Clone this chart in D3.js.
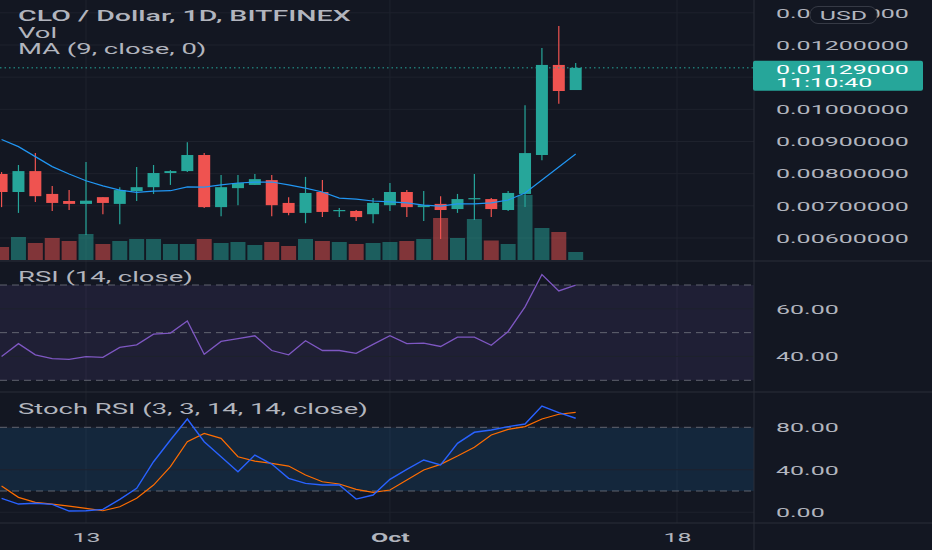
<!DOCTYPE html>
<html><head><meta charset="utf-8">
<script src="https://cdn.jsdelivr.net/npm/d3@7"></script>
<style>html,body{margin:0;padding:0;background:#131722;overflow:hidden}</style>
</head><body><svg id="c" width="932" height="550"></svg>
<script>
// ---------- DATA ----------
const dates = ["2021-09-08","2021-09-09","2021-09-10","2021-09-11","2021-09-12","2021-09-13","2021-09-14",
  "2021-09-15","2021-09-16","2021-09-17","2021-09-18","2021-09-19","2021-09-20","2021-09-21","2021-09-22",
  "2021-09-23","2021-09-24","2021-09-25","2021-09-26","2021-09-27","2021-09-28","2021-09-29","2021-09-30",
  "2021-10-01","2021-10-02","2021-10-03","2021-10-04","2021-10-05","2021-10-06","2021-10-07","2021-10-08",
  "2021-10-09","2021-10-10","2021-10-11","2021-10-12"];
const open  = [0.00799,0.00743,0.00808,0.00737,0.00715,0.00706,0.00727,0.00706,0.00746,0.00758,0.00802,0.00808,0.00858,0.00696,0.00755,0.00765,0.00780,0.00709,0.00678,0.00743,0.00684,0.00684,0.00674,0.00702,0.00743,0.00696,0.00706,0.00690,0.00721,0.00721,0.00687,0.00737,0.00858,0.01138,0.01060];
const high  = [0.00805,0.00827,0.00864,0.00762,0.00749,0.00836,0.00727,0.00758,0.00821,0.00827,0.00811,0.00898,0.00864,0.00796,0.00796,0.00799,0.00796,0.00727,0.00790,0.00780,0.00693,0.00687,0.00724,0.00771,0.00749,0.00746,0.00730,0.00737,0.00799,0.00724,0.00746,0.01013,0.01191,0.01259,0.01144];
const low   = [0.00696,0.00678,0.00712,0.00684,0.00687,0.00609,0.00674,0.00643,0.00715,0.00737,0.00765,0.00805,0.00693,0.00668,0.00702,0.00765,0.00668,0.00671,0.00646,0.00665,0.00665,0.00653,0.00646,0.00684,0.00665,0.00653,0.00597,0.00678,0.00656,0.00665,0.00684,0.00696,0.00842,0.01017,0.01060];
const close = [0.00743,0.00808,0.00730,0.00709,0.00706,0.00716,0.00709,0.00749,0.00758,0.00802,0.00808,0.00858,0.00696,0.00758,0.00771,0.00783,0.00702,0.00678,0.00740,0.00681,0.00687,0.00665,0.00709,0.00743,0.00696,0.00702,0.00687,0.00721,0.00724,0.00690,0.00740,0.00864,0.01138,0.01057,0.01129];
const volume = [130,230,170,220,190,260,160,190,210,210,160,160,210,170,180,150,180,140,210,190,180,160,170,180,190,210,420,220,410,195,160,650,320,280,80];
const ma9   = [0.00906,0.00884,0.00853,0.00822,0.00799,0.00778,0.00762,0.00749,0.00742,0.00746,0.00747,0.00759,0.00758,0.00765,0.00771,0.00774,0.00774,0.00765,0.00755,0.00743,0.00724,0.00721,0.00715,0.00712,0.00709,0.00702,0.00699,0.00706,0.00706,0.00709,0.00718,0.00740,0.00780,0.00821,0.00861];
const rsi   = [40.0,45.4,40.7,39.1,38.8,39.9,39.6,43.8,44.9,49.4,49.8,54.9,40.9,46.3,47.5,48.7,42.5,40.7,46.6,42.5,42.5,41.3,45.1,48.7,45.4,45.6,44.2,48.1,48.1,44.7,50.5,60.8,74.4,67.5,69.9];
const stochK = [13.1,7.7,8.4,7.4,1.1,1.4,2.7,12.1,22.5,47.6,68.0,87.8,66.4,52.3,38.2,53.9,45.4,31.9,27.2,25.6,25.6,12.4,16.2,31.0,40.4,49.2,44.5,64.9,75.3,77.5,80.6,83.1,100,93.8,88.5];
const stochD = [24.7,14.0,9.3,7.7,5.8,3.7,1.4,5.2,13.1,25.6,42.9,66.4,74.3,69.6,52.3,48.2,46.1,43.5,35.0,28.7,26.6,21.6,18.7,20.9,30.3,39.8,45.1,52.9,61.2,72.7,78.1,80.6,87.8,92.3,94.1];
const priceTicks = [0.006,0.007,0.008,0.009,0.010,0.012,0.013];
const priceGrid = [0.006,0.007,0.008,0.009,0.010,0.011,0.012,0.013];
const rsiTicks = [40,60];
const rsiBands = [70,50,30];
const stochTicks = [0,40,80];
const stochBands = [80,20];
const xTickDates = ["2021-09-13","2021-10-01","2021-10-18"];
const xTickLabels = ["13","Oct","18"];
const lastPrice = 0.01129;
const lastTime = "11:10:40";
const title = "CLO / Dollar, 1D, BITFINEX";

// ---------- SETUP ----------
const parse = d3.timeParse("%Y-%m-%d");
const D = dates.map(parse);
const W = 932, H = 550, PR = 754;
const P = {price:[0,261], rsi:[261,392], stoch:[392,523]};
const GREEN = "#26a69a", RED = "#ef5350";
const SX = 1.85, FS = 13.5, FONT = "Roboto, 'Noto Sans', sans-serif";
const LSX = 1.96, LFS = 14;
const TXT = "#b2b5be", GRID = "#1e222d", SEP = "#2a2e39";

const x = d3.scaleTime().domain([parse("2021-09-13"), parse("2021-10-18")]).range([86, 677]);
const yP = d3.scaleLinear().domain([0.006, 0.012]).range([238, 45]);
const yV = d3.scaleLinear().domain([0, 650]).range([260, 195]);
const yR = d3.scaleLinear().domain([30, 70]).range([380.3, 285]);
const yS = d3.scaleLinear().domain([20, 80]).range([491, 427.3]);

const svg = d3.select("#c");
svg.append("rect").attr("width", W).attr("height", H).attr("fill", "#131722");
const defs = svg.append("defs");
defs.append("clipPath").attr("id","clipP").append("rect").attr("x",0).attr("y",0).attr("width",PR).attr("height",P.price[1]);
defs.append("clipPath").attr("id","clipR").append("rect").attr("x",0).attr("y",P.rsi[0]).attr("width",PR).attr("height",P.rsi[1]-P.rsi[0]);
defs.append("clipPath").attr("id","clipS").append("rect").attr("x",0).attr("y",P.stoch[0]).attr("width",PR).attr("height",P.stoch[1]-P.stoch[0]);

function txt(parent, s, tx, ty, o={}) {
  return parent.append("text")
    .attr("transform", `translate(${tx},${ty}) scale(${o.sx||SX},1)`)
    .attr("text-anchor", o.anchor||"start")
    .attr("font-family", FONT).attr("font-size", o.size||FS)
    .attr("font-weight", o.weight||400).attr("fill", o.fill||TXT).text(s);
}

// ---------- GRID ----------
const grid = svg.append("g");
grid.selectAll(".vg").data(xTickDates.map(parse)).join("line")
  .attr("x1", d=>x(d)).attr("x2", d=>x(d)).attr("y1", 0).attr("y2", P.stoch[1])
  .attr("stroke", GRID).attr("stroke-width", 1);
grid.selectAll(".pg").data(priceGrid).join("line")
  .attr("x1", 0).attr("x2", PR).attr("y1", d=>yP(d)).attr("y2", d=>yP(d))
  .attr("stroke", GRID);

// RSI band
const rsiG = svg.append("g").attr("clip-path","url(#clipR)");
rsiG.append("rect").attr("x",0).attr("width",PR).attr("y",yR(70)).attr("height",yR(30)-yR(70))
  .attr("fill","rgba(126,87,194,0.12)");
rsiG.selectAll(".rg").data(rsiTicks).join("line")
  .attr("x1",0).attr("x2",PR).attr("y1",d=>yR(d)).attr("y2",d=>yR(d)).attr("stroke",GRID);
rsiG.selectAll(".rb").data(rsiBands).join("line")
  .attr("x1",0).attr("x2",PR).attr("y1",d=>yR(d)).attr("y2",d=>yR(d))
  .attr("stroke","#787b86").attr("stroke-opacity",0.75).attr("stroke-dasharray","7,5");

// Stoch band
const stG = svg.append("g").attr("clip-path","url(#clipS)");
stG.append("rect").attr("x",0).attr("width",PR).attr("y",yS(80)).attr("height",yS(20)-yS(80))
  .attr("fill","rgba(33,150,243,0.13)");
stG.selectAll(".sg").data(stochTicks).join("line")
  .attr("x1",0).attr("x2",PR).attr("y1",d=>yS(d)).attr("y2",d=>yS(d)).attr("stroke",GRID);
stG.selectAll(".sb").data(stochBands).join("line")
  .attr("x1",0).attr("x2",PR).attr("y1",d=>yS(d)).attr("y2",d=>yS(d))
  .attr("stroke","#787b86").attr("stroke-opacity",0.75).attr("stroke-dasharray","7,5");

// ---------- PRICE PANE ----------
const pg = svg.append("g").attr("clip-path","url(#clipP)");
const idx = d3.range(D.length);
const up = i => close[i] >= open[i];

pg.selectAll(".vol").data(idx).join("rect")
  .attr("x", i=>x(D[i])-7.5).attr("width", 15)
  .attr("y", i=>yV(volume[i])).attr("height", i=>yV(0)-yV(volume[i]))
  .attr("fill", i=> up(i) ? "rgba(38,166,154,0.5)" : "rgba(239,83,80,0.5)");

pg.selectAll(".wick").data(idx).join("line")
  .attr("x1", i=>x(D[i])).attr("x2", i=>x(D[i]))
  .attr("y1", i=>yP(high[i])).attr("y2", i=>yP(low[i]))
  .attr("stroke", i=> up(i)?GREEN:RED).attr("stroke-width", 1.2);
pg.selectAll(".body").data(idx).join("rect")
  .attr("x", i=>x(D[i])-6).attr("width", 12)
  .attr("y", i=>yP(Math.max(open[i],close[i])))
  .attr("height", i=>Math.max(1.2, Math.abs(yP(open[i])-yP(close[i]))))
  .attr("fill", i=> up(i)?GREEN:RED);

pg.append("path").datum(idx)
  .attr("d", d3.line().x(i=>x(D[i])).y(i=>yP(ma9[i])))
  .attr("fill","none").attr("stroke","#2196f3").attr("stroke-width",1.2);

pg.append("line").attr("x1",0).attr("x2",PR).attr("y1",yP(lastPrice)).attr("y2",yP(lastPrice))
  .attr("stroke",GREEN).attr("stroke-width",1).attr("stroke-dasharray","1.5,3");

// ---------- RSI LINE ----------
rsiG.append("path").datum(idx)
  .attr("d", d3.line().x(i=>x(D[i])).y(i=>yR(rsi[i])))
  .attr("fill","none").attr("stroke","#7e57c2").attr("stroke-width",1.3);

// ---------- STOCH LINES ----------
stG.append("path").datum(idx)
  .attr("d", d3.line().x(i=>x(D[i])).y(i=>yS(stochD[i])))
  .attr("fill","none").attr("stroke","#ff6d00").attr("stroke-width",1.2);
stG.append("path").datum(idx)
  .attr("d", d3.line().x(i=>x(D[i])).y(i=>yS(stochK[i])))
  .attr("fill","none").attr("stroke","#2962ff").attr("stroke-width",1.4);

// ---------- SEPARATORS ----------
[P.price[1], P.rsi[1], P.stoch[1]].forEach(yy=>{
  svg.append("line").attr("x1",0).attr("x2",W).attr("y1",yy).attr("y2",yy).attr("stroke",SEP);
});
svg.append("line").attr("x1",PR).attr("x2",PR).attr("y1",0).attr("y2",H).attr("stroke",SEP);

// ---------- AXES ----------
function styleAxis(g, dx, anchor) {
  g.select(".domain").remove();
  g.selectAll(".tick line").remove();
  g.selectAll(".tick text").each(function(){
    const t = d3.select(this);
    const y0 = +t.attr("y") || 0;
    t.attr("x", 0).attr("y", 0)
     .attr("transform", `translate(${dx},${y0}) scale(${SX},1)`)
     .attr("text-anchor", anchor)
     .attr("fill", TXT).attr("font-family", FONT).attr("font-size", FS);
  });
}
const ap = svg.append("g").attr("transform",`translate(${PR},0)`)
  .call(d3.axisRight(yP).tickValues(priceTicks).tickFormat(d3.format(".8f")).tickSize(0));
styleAxis(ap, 22, "start");
const ar = svg.append("g").attr("transform",`translate(${PR},0)`)
  .call(d3.axisRight(yR).tickValues(rsiTicks).tickFormat(d3.format(".2f")).tickSize(0));
styleAxis(ar, 22, "start");
const as = svg.append("g").attr("transform",`translate(${PR},0)`)
  .call(d3.axisRight(yS).tickValues(stochTicks).tickFormat(d3.format(".2f")).tickSize(0));
styleAxis(as, 22, "start");
const ax = svg.append("g").attr("transform",`translate(0,${P.stoch[1]})`)
  .call(d3.axisBottom(x).tickValues(xTickDates.map(parse)).tickFormat((d,i)=>xTickLabels[i]).tickSize(0).tickPadding(9));
styleAxis(ax, 0, "middle");
ax.selectAll(".tick text").attr("font-weight",(d,i)=> xTickLabels[i]==="Oct" ? 700 : 400);

// ---------- LAST PRICE LABEL ----------
const lp = yP(lastPrice);
svg.append("rect").attr("x",PR-1).attr("y",lp-7).attr("width",170).attr("height",30).attr("rx",2)
  .attr("fill",GREEN);
txt(svg, d3.format(".8f")(lastPrice), PR+22, lp+6, {fill:"#ffffff"});
txt(svg, lastTime, PR+22, lp+19.5, {fill:"#ffffff"});

// USD badge
svg.append("rect").attr("x",810).attr("y",6.5).attr("width",67).attr("height",17).attr("rx",8)
  .attr("fill","#131722").attr("stroke","#363a45");
txt(svg, "USD", 843.5, 19.5, {anchor:"middle"});

// ---------- LEGENDS ----------
txt(svg, title, 18, 21, {weight:500, size:LFS, sx:2.04});
txt(svg, "Vol", 18, 37.5, {size:LFS, sx:LSX});
txt(svg, "MA (9, close, 0)", 18, 53.5, {size:LFS, sx:LSX});
txt(svg, "RSI (14, close)", 18, 282, {size:LFS, sx:LSX});
txt(svg, "Stoch RSI (3, 3, 14, 14, close)", 18, 413.5, {size:LFS, sx:LSX});
</script></body></html>
